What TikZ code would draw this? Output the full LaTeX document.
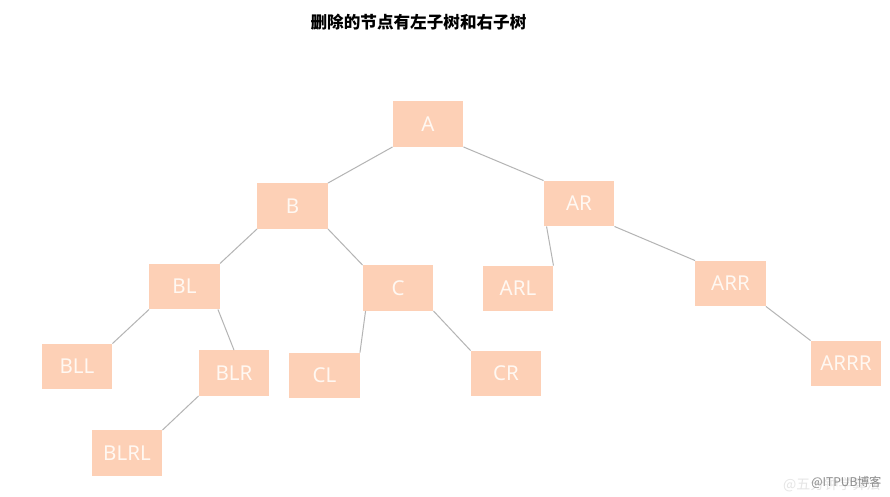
\documentclass[tikz,border=0pt]{standalone}
\usepackage{fontspec}
\setmainfont{Noto Sans}
\newfontfamily\cjk{Noto Sans CJK SC}
\definecolor{peach}{RGB}{253,208,182}
\definecolor{edgegray}{RGB}{180,180,180}
\definecolor{txtw}{RGB}{255,248,242}
\begin{document}
\begin{tikzpicture}[x=1pt,y=-1pt,
  tnode/.style={rectangle,fill=peach,minimum width=70.5pt,minimum height=45.5pt,inner sep=0pt,
    text=txtw,font=\fontsize{20.5}{22}\selectfont},
  tedge/.style={draw=edgegray,line width=1pt}]
\useasboundingbox[fill=white] (0,0) rectangle (890,496);
\node[font=\cjk\bfseries\fontsize{16.6}{18}\selectfont] (title) at (418.5,22) {删除的节点有左子树和右子树};
\node[tnode] (A) at (428,124) {A};
\node[tnode] (B) at (292.5,206) {B};
\node[tnode] (AR) at (579,203.5) {AR};
\node[tnode] (BL) at (184.5,286.5) {BL};
\node[tnode] (C) at (398,288) {C};
\node[tnode] (ARL) at (518,288.5) {ARL};
\node[tnode] (ARR) at (730.5,283.5) {ARR};
\node[tnode] (BLL) at (77,366.5) {BLL};
\node[tnode] (BLR) at (234,373) {BLR};
\node[tnode] (CL) at (324.5,375.5) {CL};
\node[tnode] (CR) at (506,373.5) {CR};
\node[tnode] (ARRR) at (846,363.5) {ARRR};
\node[tnode] (BLRL) at (127,453) {BLRL};
\draw[tedge] (A.south west) -- (B.north east);
\draw[tedge] (A.south east) -- (AR.north west);
\draw[tedge] (B.south west) -- (BL.north east);
\draw[tedge] (B.south east) -- (C.north west);
\draw[tedge] ([xshift=3pt]AR.south west) -- (ARL.north east);
\draw[tedge] (AR.south east) -- (ARR.north west);
\draw[tedge] (BL.south west) -- (BLL.north east);
\draw[tedge] ([xshift=-2pt]BL.south east) -- (BLR.north);
\draw[tedge] ([xshift=3pt]C.south west) -- (CL.north east);
\draw[tedge] (C.south east) -- (CR.north west);
\draw[tedge] (ARR.south east) -- (ARRR.north west);
\draw[tedge] (BLR.south west) -- (BLRL.north east);
\node[text=black!10,font=\cjk\fontsize{14}{16}\selectfont,anchor=east] (wm1) at (884,485) {@五分钟学算法};
\node[text=black!45,font=\cjk\fontsize{12}{14}\selectfont,anchor=east] (wm2) at (885,482) {@ITPUB博客};
\end{tikzpicture}
\end{document}
